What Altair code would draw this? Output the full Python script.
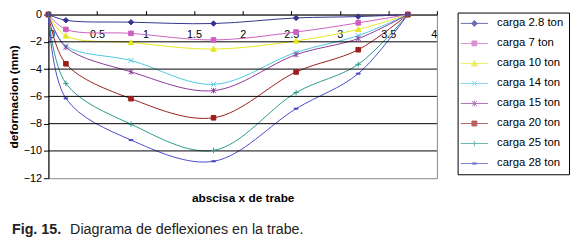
import altair as alt
import pandas as pd

# ---------------- data ----------------
x_pos = [0, 0.18, 0.85, 1.7, 2.55, 3.19, 3.7]
series_names = ["carga 2.8 ton", "carga 7 ton", "carga 10 ton", "carga 14 ton",
                "carga 15 ton", "carga 20 ton", "carga 25 ton", "carga 28 ton"]
v_28 = [0, -0.42, -0.56, -0.66, -0.25, -0.15, 0]
v_7 = [0, -1.09, -1.38, -1.86, -1.28, -0.61, 0]
v_10 = [0, -1.57, -2.05, -2.53, -1.93, -1.09, 0]
v_14 = [0, -2.29, -3.37, -5.12, -2.77, -1.55, 0]
v_15 = [0, -2.40, -4.20, -5.58, -2.94, -1.76, 0]
v_20 = [0, -3.61, -6.17, -7.57, -4.21, -2.58, 0]
v_25 = [0, -5.05, -8.04, -9.96, -5.72, -3.65, 0]
v_28t = [0, -6.15, -9.20, -10.76, -6.90, -4.33, 0]
all_values = [v_28, v_7, v_10, v_14, v_15, v_20, v_25, v_28t]

x_ticks = [0, 0.5, 1, 1.5, 2, 2.5, 3, 3.5, 4]
y_ticks = [-12, -10, -8, -6, -4, -2, 0]
grid_levels = [-2, -4, -6, -8, -10]

x_title = "abscisa x de trabe"
y_title = "deformacion (mm)"
caption_bold = "Fig. 15."
caption_rest = "Diagrama de deflexiones en la trabe."

# ---------------- styles ----------------
colors = ["#34348f", "#cc5fc0", "#e6e61e", "#4cc8e0",
          "#8a3a9a", "#9a1e1e", "#2a9a8a", "#4a4ac8"]
marker_paths = [
    "M0,-1L1,0L0,1L-1,0Z",
    "M-0.85,-0.85L0.85,-0.85L0.85,0.85L-0.85,0.85Z",
    "M0,-1L1,0.8L-1,0.8Z",
    "M-0.9,-0.9L0.9,0.9M-0.9,0.9L0.9,-0.9",
    "M-0.9,-0.9L0.9,0.9M-0.9,0.9L0.9,-0.9M0,-1L0,1",
    "M-0.85,-0.85L0.85,-0.85L0.85,0.85L-0.85,0.85Z",
    "M-1,0L1,0M0,-1L0,1",
    "M-0.7,-0.2L0.7,-0.2L0.7,0.2L-0.7,0.2Z",
]
L = "M-2.5,0L2.5,0"
legend_paths = [
    L + "M0,-0.55L0.55,0L0,0.55L-0.55,0Z",
    L + "M-0.45,-0.45L0.45,-0.45L0.45,0.45L-0.45,0.45Z",
    L + "M0,-0.55L0.55,0.45L-0.55,0.45Z",
    L + "M-0.45,-0.45L0.45,0.45M-0.45,0.45L0.45,-0.45",
    L + "M-0.45,-0.45L0.45,0.45M-0.45,0.45L0.45,-0.45M0,-0.55L0,0.55",
    L + "M-0.45,-0.45L0.45,-0.45L0.45,0.45L-0.45,0.45Z",
    L + "M0,-0.5L0,0.5",
    L + "M-0.35,-0.12L0.35,-0.12L0.35,0.12L-0.35,0.12Z",
]

rows = []
for name, vals in zip(series_names, all_values):
    for xv, yv in zip(x_pos, vals):
        rows.append({"serie": name, "x": xv, "y": yv})
df = pd.DataFrame(rows)

FONT = "Liberation Sans"

x_scale = alt.Scale(domain=[0, 4], nice=False, zero=False)
y_scale = alt.Scale(domain=[-12, 0], nice=False, zero=False)
x_axis = alt.Axis(orient="top", values=x_ticks, format="~g", grid=False,
                  domainColor="black", tickColor="black", tickSize=4,
                  labelBaseline="top", labelPadding=-18, labelFontSize=11,
                  labelColor="black", labelFont=FONT, labelOverlap=False,
                  title=x_title, titleY=186, titleBaseline="middle",
                  titleFontSize=12, titleFont=FONT, titleFontWeight="bold",
                  titleColor="black")
y_axis = alt.Axis(values=y_ticks, grid=False, domainColor="black",
                  tickColor="black", tickSize=5, labelPadding=2,
                  labelFontSize=11, labelColor="black", labelFont=FONT,
                  labelOverlap=False, labelFlush=False,
                  title=y_title, titleX=-35, titleY=83, titleAngle=-90,
                  titleBaseline="middle", titleFontSize=12, titleFont=FONT,
                  titleFontWeight="bold", titleColor="black")

lines = alt.Chart(df).mark_line(interpolate="catmull-rom", strokeWidth=1).encode(
    x=alt.X("x:Q", scale=x_scale, axis=x_axis),
    y=alt.Y("y:Q", scale=y_scale, axis=y_axis),
    color=alt.Color("serie:N", scale=alt.Scale(domain=series_names, range=colors),
                    legend=None),
    order=alt.Order("x:Q"),
)

grid = alt.Chart(pd.DataFrame({"g": grid_levels})).mark_rule(
    color="black", strokeWidth=1).encode(
    y=alt.Y("g:Q", scale=y_scale, axis=y_axis, title=y_title))

markers = alt.Chart(df).mark_point(filled=True, size=30, strokeWidth=1, opacity=1).encode(
    x=alt.X("x:Q", scale=x_scale, axis=x_axis),
    y=alt.Y("y:Q", scale=y_scale, axis=y_axis),
    color=alt.Color("serie:N", scale=alt.Scale(domain=series_names, range=colors),
                    legend=None),
    stroke=alt.Stroke("serie:N", scale=alt.Scale(domain=series_names, range=colors),
                      legend=None),
    shape=alt.Shape("serie:N", scale=alt.Scale(domain=series_names, range=marker_paths),
                    legend=None),
)

leg = alt.Legend(title=None, orient="none", legendX=415, legendY=-2,
                 strokeColor="black", fillColor="white", padding=5,
                 symbolSize=121, symbolStrokeWidth=1, symbolOffset=6,
                 labelOffset=17, rowPadding=8.3, labelFontSize=11.5,
                 labelFont=FONT, labelColor="black", labelLimit=200)

legend_layer = alt.Chart(df).transform_filter("false").mark_point(
    filled=True, strokeWidth=1).encode(
    color=alt.Color("serie:N", scale=alt.Scale(domain=series_names, range=colors),
                    legend=leg),
    stroke=alt.Stroke("serie:N", scale=alt.Scale(domain=series_names, range=colors),
                      legend=leg),
    shape=alt.Shape("serie:N", scale=alt.Scale(domain=series_names, range=legend_paths),
                    legend=leg),
)

cap1 = alt.Chart(pd.DataFrame({"t": [caption_bold]})).mark_text(
    align="left", baseline="alphabetic", font=FONT, fontSize=14.5,
    fontWeight="bold", color="#222222").encode(
    text="t:N", x=alt.value(-37), y=alt.value(223))
cap2 = alt.Chart(pd.DataFrame({"t": [caption_rest]})).mark_text(
    align="left", baseline="alphabetic", font=FONT, fontSize=14.5,
    color="#222222").encode(
    text="t:N", x=alt.value(22), y=alt.value(223))

chart = alt.layer(lines, grid, markers, legend_layer, cap1, cap2).resolve_scale(
    color="independent", stroke="independent", shape="independent"
).properties(
    width=394, height=166,
    autosize=alt.AutoSizeParams(type="none"),
    padding={"left": 41, "top": 5, "right": 136, "bottom": 59},
    background="white",
).configure_view(fill="#c4c5c7", stroke="#888888", strokeWidth=1)

chart.save("out.html", embed_options={"renderer": "svg", "actions": False})
